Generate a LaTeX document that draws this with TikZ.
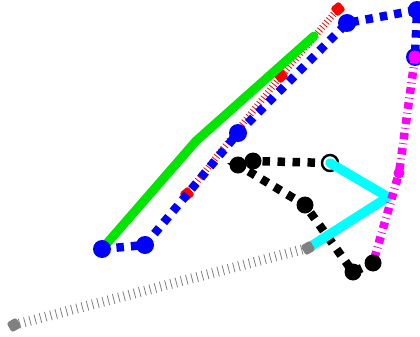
\documentclass[tikz,border=0pt]{standalone}
\definecolor{aqualine}{RGB}{0,255,255}
\definecolor{pinkline}{RGB}{255,0,255}
\definecolor{limeline}{RGB}{0,230,0}
\definecolor{greyline}{RGB}{128,128,128}
\begin{document}
\begin{tikzpicture}[x=1pt,y=-1pt,
  pt/.style={inner sep=0pt,outer sep=0pt},
  bluepath/.style={draw=blue,line width=8.5pt,dash pattern=on 7.5pt off 7pt},
  bluedot/.style={pt,circle,fill=blue,minimum size=18pt},
  greenpath/.style={draw=limeline,line width=9pt,line cap=round,line join=round},
  redpath/.style={draw=red,line width=7pt,dash pattern=on 0.8pt off 2.6pt},
  redmark/.style={pt,rectangle,fill=red,rounded corners=2.5pt,minimum size=11pt},
  magpath/.style={draw=pinkline,line width=8.5pt,dash pattern=on 6.5pt off 4pt on 0.8pt off 4pt},
  magdot/.style={pt,circle,fill=pinkline,minimum size=13pt},
  blackpath/.style={draw=black,line width=8.5pt,dash pattern=on 7.5pt off 7.5pt},
  blackdot/.style={pt,circle,fill=black,minimum size=17pt},
  opendot/.style={pt,circle,draw=black,line width=2.4pt,fill=white,minimum size=16pt},
  cyanpath/.style={draw=aqualine,line width=9.5pt,line cap=round,line join=round},
  graypath/.style={draw=greyline,line width=10pt,dash pattern=on 0.8pt off 4.6pt},
  graymark/.style={pt,rectangle,fill=greyline,rounded corners=2.5pt,minimum size=11pt}]
\useasboundingbox (0,0) rectangle (420,337);

% vertices
\coordinate (b1) at (102,249);
\coordinate (b2) at (145,245);
\coordinate (b3) at (238,133);
\coordinate (b4) at (347,23);
\coordinate (b5) at (417,10);
\coordinate (b6) at (415,57);
\coordinate (g2) at (196,141);
\coordinate (g3) at (314,36);
\coordinate (r1) at (338,9);
\coordinate (r2) at (281,76);
\coordinate (r3) at (187,194);
\coordinate (m2) at (399,173);
\coordinate (m3) at (373,263);
\coordinate (k0) at (330,163);
\coordinate (k1) at (253,161);
\coordinate (k2) at (238,165);
\coordinate (k3) at (305,205);
\coordinate (k4) at (353,272);
\coordinate (c2) at (388,197);
\coordinate (c3) at (308,248);
\coordinate (s1) at (14,325);

% gray hatched line
\draw[graypath] (s1) -- (c3);

% red hatched line with square markers
\draw[redpath] (r1) -- (r2) -- (r3);
\node[redmark,rotate=-50] (rm1) at (r1) {};
\node[redmark,rotate=-50] (rm2) at (r2) {};
\node[redmark,rotate=-50] (rm3) at (r3) {};

% green solid line
\draw[greenpath] (b1) -- (g2) -- (g3);

% blue dashed line with round markers
\draw[bluepath] (b1) -- (b2) -- (b3) -- (b4) -- (b5) -- (b6);
\foreach \p in {b1,b2,b3,b4,b5,b6} \node[bluedot] (n\p) at (\p) {};

% black dashed line
\draw[blackpath] (k0) -- (k1) -- (k2) -- (k3) -- (k4) -- (m3);
\node[opendot] (nk0) at (k0) {};
\foreach \p in {k1,k2,k3,k4} \node[blackdot] (n\p) at (\p) {};

% cyan solid line
\draw[cyanpath] (k0) -- (c2) -- (c3);

% magenta dash-dot line
\draw[magpath] (b6) -- (m2) -- (m3);
\node[magdot] (nm1) at (b6) {};
\node[magdot,minimum size=11pt] (nm2) at (m2) {};
\node[blackdot] (nm3) at (m3) {};

% gray end markers
\node[graymark,rotate=30] (gm1) at (s1) {};
\node[graymark,rotate=30] (gm2) at (c3) {};
\end{tikzpicture}
\end{document}
